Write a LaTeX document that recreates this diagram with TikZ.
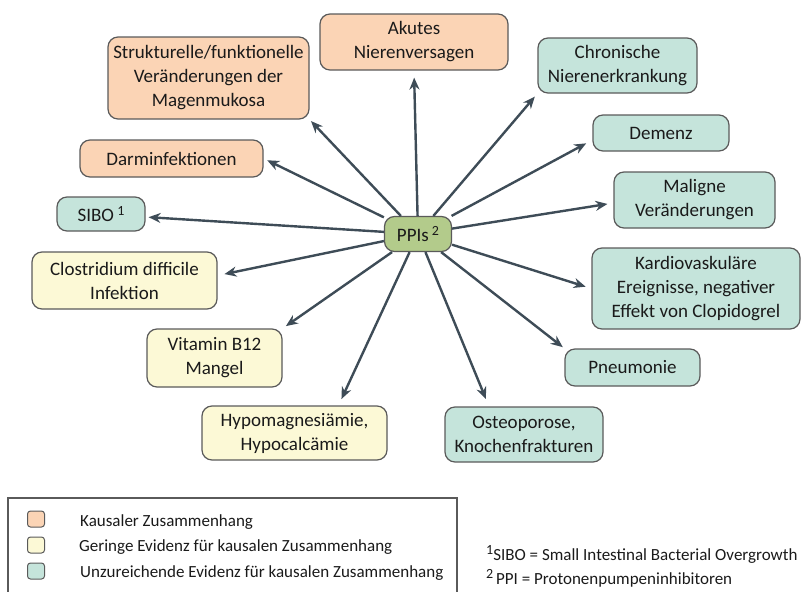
\documentclass[tikz,border=0pt]{standalone}
\usepackage{fontspec}
\setmainfont{Carlito}
\usepackage{xcolor}
\usetikzlibrary{arrows.meta}

\definecolor{kausal}{HTML}{FBD4B5}
\definecolor{gering}{HTML}{FCF9D6}
\definecolor{unzureichend}{HTML}{C5E4DB}
\definecolor{ppigruen}{HTML}{B3CB8B}
\definecolor{rand}{HTML}{5A5A5A}
\definecolor{pfeilfarbe}{HTML}{3E4C57}
\definecolor{schrift}{HTML}{1A1A1A}

\newcommand{\hoch}[1]{\raisebox{0.75ex}{\fontsize{14}{14}\selectfont #1}}

\tikzset{
  befund/.style={draw=rand, line width=1.2pt, rounded corners=10pt, align=center,
    text=schrift, font=\fontsize{19}{24}\selectfont, inner sep=2pt},
  pfeil/.style={draw=pfeilfarbe, line width=2.4pt, -{Stealth[length=12pt,width=10pt]}},
  legendfeld/.style={draw=rand, line width=1pt, rounded corners=3pt,
    minimum width=17pt, minimum height=16pt, inner sep=0pt},
  legendtext/.style={anchor=west, text=schrift, font=\fontsize{17}{19}\selectfont, inner sep=0pt},
  fussnote/.style={anchor=west, text=schrift, font=\fontsize{17}{19}\selectfont, inner sep=0pt}
}

\begin{document}
\begin{tikzpicture}[x=1pt, y=-1pt]
    \useasboundingbox (0, 0) rectangle (801, 592);
    \clip (0, 0) rectangle (801, 592);

    % Zentrum
    \node[befund, fill=ppigruen, minimum width=67pt, minimum height=35pt] (ppi) at (418, 234) {PPIs\,\hoch{2}};

    % Kausaler Zusammenhang
    \node[befund, fill=kausal, minimum width=188pt, minimum height=56pt] (akut) at (414, 42) {Akutes\\Nierenversagen};
    \node[befund, fill=kausal, minimum width=201pt, minimum height=82pt] (struk) at (208.5, 78) {Strukturelle/funktionelle\\Veränderungen der\\Magenmukosa};
    \node[befund, fill=kausal, minimum width=183pt, minimum height=37pt] (darm) at (171.5, 158.5) {Darminfektionen};

    % Geringe Evidenz
    \node[befund, fill=gering, minimum width=185pt, minimum height=57pt] (clos) at (124.5, 280.5) {Clostridium difficile\\Infektion};
    \node[befund, fill=gering, minimum width=135pt, minimum height=58pt] (vit) at (214.5, 358) {Vitamin B12\\Mangel};
    \node[befund, fill=gering, minimum width=185pt, minimum height=54pt] (hypo) at (294.5, 433) {Hypomagnesiämie,\\Hypocalcämie};

    % Unzureichende Evidenz
    \node[befund, fill=unzureichend, minimum width=88pt, minimum height=34pt] (sibo) at (101, 214) {SIBO\,\hoch{1}};
    \node[befund, fill=unzureichend, minimum width=159pt, minimum height=55pt] (chron) at (617.5, 65.5) {Chronische\\Nierenerkrankung};
    \node[befund, fill=unzureichend, minimum width=136pt, minimum height=36pt] (demenz) at (661, 133) {Demenz};
    \node[befund, fill=unzureichend, minimum width=161pt, minimum height=56pt] (malig) at (694.5, 200) {Maligne\\Veränderungen};
    \node[befund, fill=unzureichend, minimum width=208pt, minimum height=81pt] (kardio) at (696, 288.5) {Kardiovaskuläre\\Ereignisse, negativer\\Effekt von Clopidogrel};
    \node[befund, fill=unzureichend, minimum width=135pt, minimum height=37pt] (pneu) at (632.5, 367.5) {Pneumonie};
    \node[befund, fill=unzureichend, minimum width=158pt, minimum height=55pt] (osteo) at (524, 434.5) {Osteoporose,\\Knochenfrakturen};

    % Pfeile
    \draw[pfeil, shorten >=7pt] (ppi) -- (akut.south);
    \draw[pfeil, shorten >=2pt] (ppi) -- (struk.south east);
    \draw[pfeil, shorten >=4pt] (ppi) -- (darm.east);
    \draw[pfeil, shorten >=3pt] (ppi) -- ([yshift=-3pt]sibo.east);
    \draw[pfeil, shorten >=7pt] (ppi) -- ([yshift=5pt]clos.east);
    \draw[pfeil, shorten >=4pt] (ppi) -- (vit.north east);
    \draw[pfeil, shorten >=7pt] (ppi) -- ([xshift=44pt]hypo.north);
    \draw[pfeil, shorten >=4pt] (ppi) -- (chron.south west);
    \draw[pfeil, shorten >=7pt] (ppi) -- ([yshift=-7pt]demenz.west);
    \draw[pfeil, shorten >=6pt] (ppi) -- ([yshift=-3pt]malig.west);
    \draw[pfeil, shorten >=6pt] (ppi) -- (kardio.west);
    \draw[pfeil, shorten >=2pt] (ppi) -- (pneu.north west);
    \draw[pfeil, shorten >=8pt] (ppi) -- ([xshift=-35pt]osteo.north);

    % Legende
    \draw[rand, line width=1.2pt] (8, 498) rectangle (457, 610);
    \node[legendfeld, fill=kausal] (lk) at (36, 519) {};
    \node[legendfeld, fill=gering] (lg) at (36, 545) {};
    \node[legendfeld, fill=unzureichend] (lu) at (36, 571) {};
    \node[legendtext] (tk) at (80, 522) {Kausaler Zusammenhang};
    \node[legendtext] (tg) at (79, 547) {Geringe Evidenz für kausalen Zusammenhang};
    \node[legendtext] (tu) at (80, 573) {Unzureichende Evidenz für kausalen Zusammenhang};

    % Fussnoten
    \node[fussnote] (f1) at (486, 554) {\hoch{1}SIBO = Small Intestinal Bacterial Overgrowth};
    \node[fussnote] (f2) at (486, 578) {\hoch{2}\,PPI = Protonenpumpeninhibitoren};
\end{tikzpicture}
\end{document}
